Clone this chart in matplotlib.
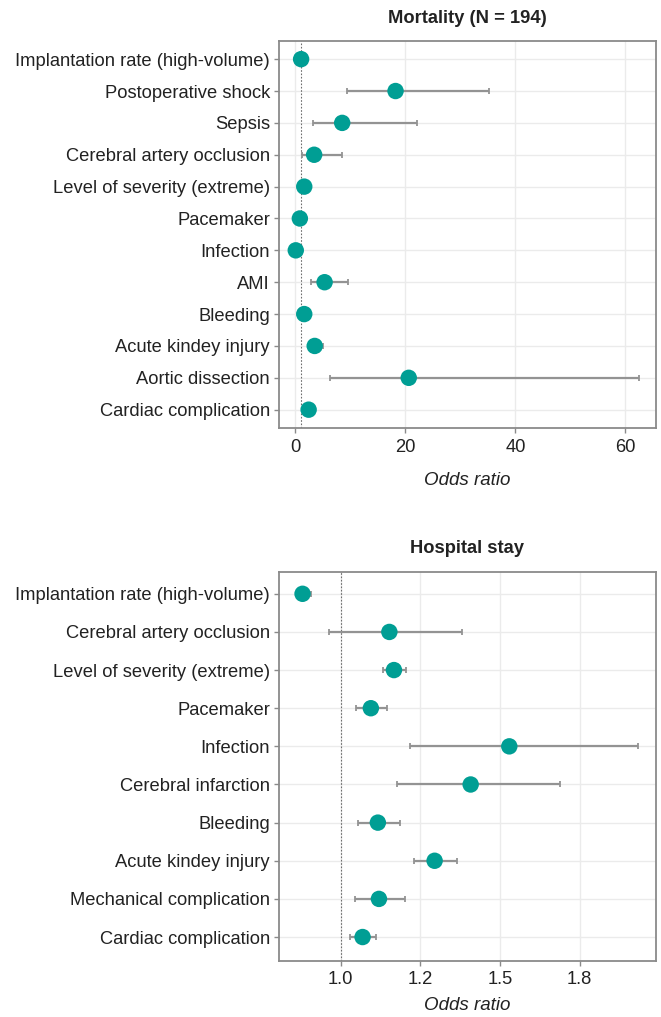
"""Forest plots of odds ratios for mortality and hospital stay."""

import matplotlib

matplotlib.use("Agg")
import matplotlib.pyplot as plt
from matplotlib.ticker import FixedLocator, FormatStrFormatter, NullLocator

plt.rcParams["font.family"] = ["Liberation Sans", "DejaVu Sans"]

TEAL = "#009e94"
BAR_GREY = "#939393"
GRID = "#ebebeb"
BORDER = "#8a8a8a"

# Mortality (N = 194)
mort_labels = [
    "Implantation rate (high-volume)",
    "Postoperative shock",
    "Sepsis",
    "Cerebral artery occlusion",
    "Level of severity (extreme)",
    "Pacemaker",
    "Infection",
    "AMI",
    "Bleeding",
    "Acute kindey injury",
    "Aortic dissection",
    "Cardiac complication",
]
mort_or = [1.03, 18.2, 8.5, 3.4, 1.6, 0.8, 0.06, 5.3, 1.6, 3.5, 20.6, 2.4]
mort_lo = [0.95, 9.45, 3.2, 1.2, 1.5, 0.7, 0.03, 2.8, 1.4, 2.6, 6.3, 2.2]
mort_hi = [1.1, 35.2, 22.1, 8.5, 1.7, 0.9, 0.09, 9.6, 1.8, 5.0, 62.5, 2.6]
mort_ticks = [0, 20, 40, 60]

# Hospital stay
stay_labels = [
    "Implantation rate (high-volume)",
    "Cerebral artery occlusion",
    "Level of severity (extreme)",
    "Pacemaker",
    "Infection",
    "Cerebral infarction",
    "Bleeding",
    "Acute kindey injury",
    "Mechanical complication",
    "Cardiac complication",
]
stay_or = [0.909, 1.129, 1.142, 1.078, 1.523, 1.383, 1.097, 1.264, 1.100, 1.056]
stay_lo = [0.894, 0.971, 1.111, 1.040, 1.190, 1.152, 1.043, 1.200, 1.037, 1.024]
stay_hi = [0.928, 1.355, 1.176, 1.121, 2.100, 1.729, 1.159, 1.338, 1.175, 1.091]
stay_ticks = [1.0, 1.22, 1.4884, 1.8158]


def forest(ax, labels, odds, lo, hi, title, xlabel_pad=9, title_pad=9):
    y = list(range(len(labels)))
    err = [[o - l for o, l in zip(odds, lo)], [h - o for o, h in zip(odds, hi)]]
    ax.axvline(1.0, color="#6e6e6e", lw=0.8, ls=(0, (1.5, 1.5)), zorder=1)
    ax.errorbar(odds, y, xerr=err, fmt="none", ecolor=BAR_GREY, elinewidth=1.6,
                capsize=2.5, capthick=1.3, zorder=2)
    ax.scatter(odds, y, s=140, color=TEAL, edgecolors="none", zorder=3)

    ax.set_yticks(y)
    ax.set_yticklabels(labels)

    ax.set_facecolor("white")
    ax.grid(True, color=GRID, lw=1.0, zorder=0)
    ax.set_axisbelow(True)
    for side in ax.spines.values():
        side.set_color(BORDER)
        side.set_linewidth(1.3)
    ax.tick_params(axis="both", colors=BORDER, length=3.5, width=1.0,
                   labelsize=13.2, labelcolor="#222222")
    ax.tick_params(axis="x", pad=4)
    ax.tick_params(axis="y", pad=3)
    ax.set_xlabel("Odds ratio", fontsize=13.5, style="italic", color="#222222",
                  labelpad=xlabel_pad)
    ax.set_title(title, fontsize=13.2, fontweight="bold", color="#222222",
                 pad=title_pad)


fig = plt.figure(figsize=(6.61, 10.17), dpi=100)

ax_mort = fig.add_axes([0.422, 0.579, 0.570, 0.381])
forest(ax_mort, mort_labels, mort_or, mort_lo, mort_hi, "Mortality (N = 194)",
       xlabel_pad=12, title_pad=13)
ax_mort.set_ylim(len(mort_labels) - 0.42, -0.58)
ax_mort.set_xlim(-3.0, 65.5)
ax_mort.set_xticks(mort_ticks)

ax_stay = fig.add_axes([0.422, 0.055, 0.570, 0.3825])
forest(ax_stay, stay_labels, stay_or, stay_lo, stay_hi, "Hospital stay",
       xlabel_pad=6, title_pad=14)
ax_stay.set_ylim(len(stay_labels) - 0.37, -0.57)
ax_stay.set_xscale("log")
ax_stay.set_xlim(0.857, 2.195)
ax_stay.xaxis.set_major_locator(FixedLocator(stay_ticks))
ax_stay.xaxis.set_major_formatter(FormatStrFormatter("%.1f"))
ax_stay.xaxis.set_minor_locator(NullLocator())

fig.savefig("out.png", dpi=100)
